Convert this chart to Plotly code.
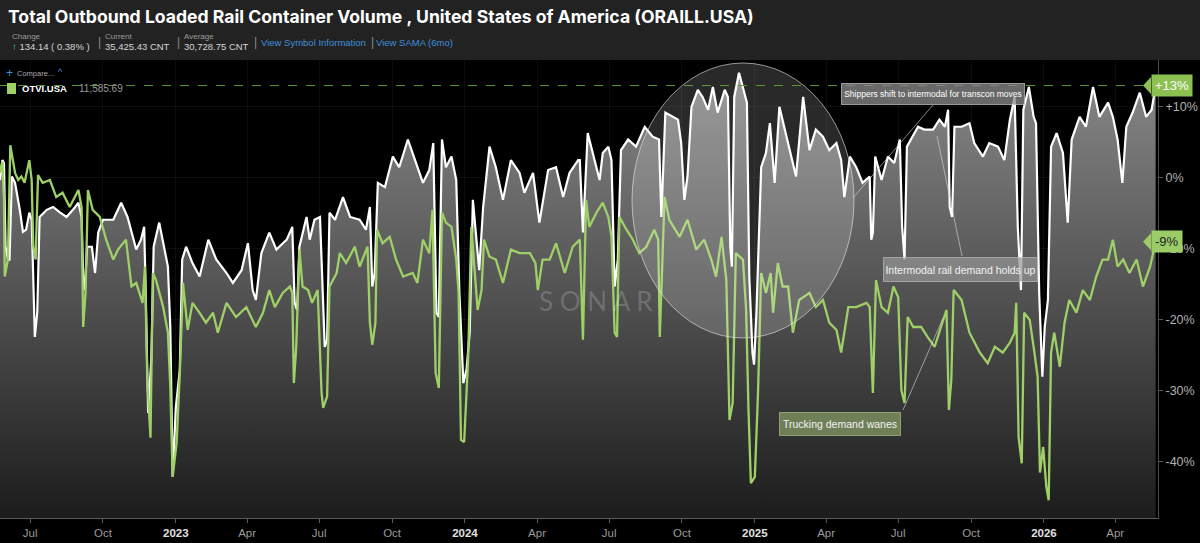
import plotly.graph_objects as go

# ---------------- data ----------------
rail_dates = [
    "2022-05-24", "2022-05-27", "2022-05-29", "2022-05-31", "2022-06-03", "2022-06-05", "2022-06-08",
    "2022-06-12", "2022-06-18", "2022-06-22", "2022-06-26", "2022-06-30", "2022-07-03", "2022-07-06",
    "2022-07-07", "2022-07-10", "2022-07-13", "2022-07-22", "2022-07-30", "2022-08-08", "2022-08-16",
    "2022-08-24", "2022-08-31", "2022-09-04", "2022-09-06", "2022-09-08", "2022-09-11", "2022-09-17",
    "2022-09-21", "2022-09-25", "2022-10-01", "2022-10-14", "2022-10-24", "2022-11-01", "2022-11-12",
    "2022-11-18", "2022-11-22", "2022-11-24", "2022-11-27", "2022-12-01", "2022-12-04", "2022-12-11",
    "2022-12-18", "2022-12-22", "2022-12-25", "2022-12-28", "2023-01-01", "2023-01-06", "2023-01-09",
    "2023-01-14", "2023-01-22", "2023-01-31", "2023-02-11", "2023-02-21", "2023-03-06", "2023-03-14",
    "2023-03-25", "2023-04-02", "2023-04-08", "2023-04-12", "2023-04-19", "2023-04-29", "2023-05-08",
    "2023-05-21", "2023-05-25", "2023-05-28", "2023-05-31", "2023-06-03", "2023-06-06", "2023-06-15",
    "2023-06-19", "2023-06-25", "2023-07-02", "2023-07-05", "2023-07-08", "2023-07-11", "2023-07-14",
    "2023-07-21", "2023-07-31", "2023-08-09", "2023-08-21", "2023-08-29", "2023-09-03", "2023-09-06",
    "2023-09-09", "2023-09-13", "2023-09-22", "2023-10-02", "2023-10-10", "2023-10-21", "2023-10-31",
    "2023-11-09", "2023-11-17", "2023-11-22", "2023-11-26", "2023-11-29", "2023-12-03", "2023-12-08",
    "2023-12-15", "2023-12-21", "2023-12-25", "2023-12-30", "2024-01-03", "2024-01-07", "2024-01-11",
    "2024-01-15", "2024-01-19", "2024-01-24", "2024-02-01", "2024-02-09", "2024-02-18", "2024-02-28",
    "2024-03-10", "2024-03-16", "2024-03-27", "2024-04-04", "2024-04-15", "2024-04-25", "2024-05-04",
    "2024-05-12", "2024-05-23", "2024-05-25", "2024-05-29", "2024-06-04", "2024-06-10", "2024-06-19",
    "2024-06-23", "2024-06-30", "2024-07-04", "2024-07-08", "2024-07-12", "2024-07-16", "2024-07-25",
    "2024-08-04", "2024-08-15", "2024-08-25", "2024-09-02", "2024-09-05", "2024-09-10", "2024-09-19",
    "2024-09-26", "2024-09-30", "2024-10-04", "2024-10-08", "2024-10-13", "2024-10-21", "2024-10-27",
    "2024-11-03", "2024-11-09", "2024-11-15", "2024-11-24", "2024-11-28", "2024-12-01", "2024-12-03",
    "2024-12-06", "2024-12-12", "2024-12-17", "2024-12-22", "2024-12-25", "2024-12-29", "2024-12-31",
    "2025-01-03", "2025-01-09", "2025-01-15", "2025-01-20", "2025-01-26", "2025-02-01", "2025-02-05",
    "2025-02-14", "2025-02-22", "2025-03-03", "2025-03-11", "2025-03-19", "2025-03-28", "2025-04-05",
    "2025-04-14", "2025-04-20", "2025-04-24", "2025-05-01", "2025-05-09", "2025-05-17", "2025-05-26",
    "2025-05-28", "2025-05-30", "2025-06-02", "2025-06-10", "2025-06-18", "2025-06-26", "2025-07-03",
    "2025-07-06", "2025-07-09", "2025-07-12", "2025-07-17", "2025-07-26", "2025-08-03", "2025-08-14",
    "2025-08-22", "2025-08-29", "2025-09-02", "2025-09-04", "2025-09-07", "2025-09-10", "2025-09-19",
    "2025-09-29", "2025-10-05", "2025-10-16", "2025-10-24", "2025-11-04", "2025-11-12", "2025-11-19",
    "2025-11-25", "2025-11-29", "2025-12-03", "2025-12-06", "2025-12-13", "2025-12-19", "2025-12-22",
    "2025-12-26", "2025-12-30", "2026-01-02", "2026-01-06", "2026-01-10", "2026-01-17", "2026-01-25",
    "2026-01-31", "2026-02-05", "2026-02-15", "2026-02-23", "2026-03-04", "2026-03-12", "2026-03-23",
    "2026-03-29", "2026-04-04", "2026-04-10", "2026-04-15", "2026-04-23", "2026-05-02", "2026-05-10",
    "2026-05-17", "2026-05-22",
]
rail_pct = [
    -0.3, 2.5, 2.1, -9.7, -11.5, -11.5, 0.2,
    -0.7, -4.5, -7.6, -7.3, -4.9, -5.9, -20.0,
    -22.4, -19.0, -5.5, -4.5, -4.1, -4.9, -5.5,
    -4.5, -3.5, -5.5, -13.9, -15.8, -9.7, -9.7,
    -13.4, -7.7, -5.9, -5.9, -3.5, -5.5, -10.1,
    -8.7, -6.9, -16.2, -33.1, -25.6, -9.7, -6.3,
    -10.6, -12.5, -21.0, -42.1, -32.3, -27.0, -11.5,
    -9.7, -12.0, -13.9, -8.7, -11.5, -13.4, -14.8,
    -13.0, -9.2, -15.8, -17.2, -10.6, -7.7, -10.1,
    -8.7, -7.7, -6.9, -17.6, -18.6, -9.7, -5.5,
    -8.7, -5.9, -5.5, -16.2, -23.8, -22.8, -4.9,
    -5.9, -2.7, -5.5, -5.9, -7.3, -4.1, -15.3,
    -13.4, -0.7, -1.3, 3.0, 1.5, 5.4, 2.1,
    -0.7, 1.1, 4.9, -19.0, -19.6, 5.4, 1.5,
    3.0, -0.3, -16.2, -28.9, -27.0, -21.8, -3.1,
    -7.7, -13.0, -4.1, 4.4, 1.5, -3.1, 2.5,
    0.7, -2.1, 0.7, -6.3, 1.1, 1.5, -2.7,
    0.7, 2.5, 2.5, -7.7, 6.3, 3.5, -0.3,
    3.5, 4.4, 2.5, -15.3, -11.5, 3.9, 5.4,
    4.4, 7.2, 5.8, 5.4, -5.5, 9.2, 8.6,
    8.2, 4.9, -3.1, 0.2, 10.0, 12.4, 11.4,
    9.6, 12.8, 9.2, 12.4, 11.4, -9.7, -12.5,
    11.4, 14.8, 12.8, 10.6, -13.9, -24.6, -26.3,
    -19.0, 1.5, 3.5, 7.7, -0.7, 10.0, 8.2,
    3.9, 0.2, 11.4, 3.9, 6.8, 5.8, 3.9,
    4.9, 2.5, -2.7, 3.0, 1.5, -0.7, 0.2,
    -8.7, -7.7, 3.0, -0.3, 3.0, 2.1, 5.4,
    -6.9, -11.5, 4.4, 5.4, 7.2, 6.8, 6.8,
    8.2, 7.2, 9.6, -4.1, -5.5, 7.2, 7.2,
    7.7, 4.9, 3.0, 4.9, 4.4, 2.5, 8.2,
    11.4, -6.9, -15.8, 9.6, 12.8, 8.6, 7.7,
    -16.2, -28.0, -21.0, -17.2, 4.4, 6.3, 3.5,
    -6.3, 5.4, 8.6, 7.2, 12.8, 8.6, 10.6,
    8.6, 5.4, -0.7, 7.2, 9.2, 12.0, 8.6,
    9.6, 13.0,
]

truck_dates = [
    "2022-05-24", "2022-05-27", "2022-05-29", "2022-05-30", "2022-06-03", "2022-06-06", "2022-06-12",
    "2022-06-16", "2022-06-20", "2022-06-24", "2022-06-30", "2022-07-03", "2022-07-05", "2022-07-08",
    "2022-07-11", "2022-07-17", "2022-07-26", "2022-08-03", "2022-08-11", "2022-08-20", "2022-08-31",
    "2022-09-04", "2022-09-06", "2022-09-09", "2022-09-12", "2022-09-18", "2022-09-27", "2022-10-05",
    "2022-10-14", "2022-10-20", "2022-10-30", "2022-11-06", "2022-11-12", "2022-11-20", "2022-11-23",
    "2022-11-26", "2022-11-30", "2022-12-03", "2022-12-07", "2022-12-16", "2022-12-22", "2022-12-25",
    "2022-12-28", "2023-01-02", "2023-01-06", "2023-01-10", "2023-01-16", "2023-01-22", "2023-01-31",
    "2023-02-08", "2023-02-17", "2023-02-23", "2023-03-06", "2023-03-18", "2023-03-31", "2023-04-12",
    "2023-04-21", "2023-04-29", "2023-05-06", "2023-05-16", "2023-05-25", "2023-05-28", "2023-05-30",
    "2023-06-02", "2023-06-06", "2023-06-10", "2023-06-17", "2023-06-22", "2023-06-29", "2023-07-04",
    "2023-07-06", "2023-07-11", "2023-07-14", "2023-07-23", "2023-07-27", "2023-08-04", "2023-08-15",
    "2023-08-21", "2023-08-31", "2023-09-03", "2023-09-06", "2023-09-10", "2023-09-12", "2023-09-19",
    "2023-09-28", "2023-10-06", "2023-10-15", "2023-10-27", "2023-11-02", "2023-11-09", "2023-11-17",
    "2023-11-21", "2023-11-25", "2023-11-29", "2023-12-03", "2023-12-08", "2023-12-15", "2023-12-21",
    "2023-12-24", "2023-12-27", "2023-12-31", "2024-01-05", "2024-01-09", "2024-01-13", "2024-01-17",
    "2024-01-22", "2024-01-25", "2024-02-01", "2024-02-09", "2024-02-18", "2024-02-28", "2024-03-10",
    "2024-03-23", "2024-03-30", "2024-04-02", "2024-04-08", "2024-04-17", "2024-04-25", "2024-05-06",
    "2024-05-16", "2024-05-25", "2024-05-29", "2024-06-02", "2024-06-06", "2024-06-15", "2024-06-23",
    "2024-06-30", "2024-07-04", "2024-07-08", "2024-07-11", "2024-07-14", "2024-07-23", "2024-07-31",
    "2024-08-08", "2024-08-17", "2024-08-27", "2024-09-01", "2024-09-03", "2024-09-09", "2024-09-15",
    "2024-09-28", "2024-10-08", "2024-10-19", "2024-10-29", "2024-11-07", "2024-11-13", "2024-11-20",
    "2024-11-26", "2024-11-30", "2024-12-04", "2024-12-08", "2024-12-17", "2024-12-21", "2024-12-24",
    "2024-12-27", "2025-01-01", "2025-01-05", "2025-01-09", "2025-01-15", "2025-01-21", "2025-01-24",
    "2025-01-30", "2025-02-05", "2025-02-12", "2025-02-18", "2025-02-26", "2025-03-11", "2025-03-19",
    "2025-03-28", "2025-04-05", "2025-04-14", "2025-04-20", "2025-04-29", "2025-05-09", "2025-05-22",
    "2025-05-26", "2025-05-30", "2025-06-03", "2025-06-10", "2025-06-18", "2025-06-25", "2025-07-01",
    "2025-07-05", "2025-07-09", "2025-07-13", "2025-07-20", "2025-07-30", "2025-08-07", "2025-08-16",
    "2025-08-24", "2025-08-31", "2025-09-03", "2025-09-06", "2025-09-09", "2025-09-19", "2025-09-29",
    "2025-10-12", "2025-10-22", "2025-10-31", "2025-11-10", "2025-11-19", "2025-11-25", "2025-11-27",
    "2025-11-30", "2025-12-04", "2025-12-07", "2025-12-14", "2025-12-20", "2025-12-24", "2025-12-27",
    "2025-12-31", "2026-01-04", "2026-01-07", "2026-01-10", "2026-01-14", "2026-01-21", "2026-01-27",
    "2026-02-02", "2026-02-11", "2026-02-19", "2026-02-28", "2026-03-08", "2026-03-16", "2026-03-23",
    "2026-03-29", "2026-04-04", "2026-04-11", "2026-04-19", "2026-04-28", "2026-05-06", "2026-05-15",
    "2026-05-22",
]
truck_pct = [
    0.7, 2.3, -3.1, -13.9, -11.5, 4.6, 0.7,
    -0.3, 0.2, -0.7, 2.5, -0.3, -9.7, -11.5,
    0.4, -0.7, -0.3, -2.7, -2.1, -4.1, -1.7,
    -4.1, -21.0, -16.2, -1.7, -4.5, -5.5, -8.7,
    -11.5, -10.1, -8.7, -15.3, -14.8, -17.6, -12.5,
    -28.5, -36.6, -13.4, -14.4, -18.2, -21.8, -29.4,
    -42.1, -37.3, -27.5, -14.8, -21.4, -17.6, -19.0,
    -20.4, -19.0, -21.8, -17.6, -19.6, -18.2, -21.0,
    -19.0, -15.8, -18.2, -16.2, -15.3, -16.2, -28.9,
    -23.8, -10.1, -15.3, -15.8, -17.6, -15.8, -30.3,
    -32.4, -30.8, -15.3, -13.4, -10.6, -12.0, -9.7,
    -12.5, -9.7, -20.4, -23.5, -20.4, -7.3, -9.2,
    -8.3, -11.5, -13.9, -13.4, -14.8, -8.7, -10.6,
    -4.5, -27.5, -29.6, -4.9, -6.3, -6.9, -11.5,
    -16.2, -36.9, -37.2, -25.6, -6.9, -13.0, -18.6,
    -15.8, -8.7, -11.1, -11.5, -14.8, -10.1, -10.6,
    -10.6, -12.0, -15.8, -11.5, -11.5, -9.2, -13.4,
    -9.7, -8.7, -22.8, -3.1, -6.9, -4.9, -3.5,
    -5.5, -8.3, -21.8, -22.4, -5.5, -7.3, -8.7,
    -10.6, -9.7, -7.3, -8.7, -22.4, -2.7, -5.9,
    -8.3, -5.9, -10.1, -8.7, -11.5, -13.9, -8.3,
    -14.4, -34.1, -31.7, -10.6, -11.5, -18.6, -32.7,
    -43.0, -42.1, -30.3, -13.4, -16.2, -13.4, -19.0,
    -12.0, -15.3, -15.3, -21.8, -17.2, -16.2, -18.2,
    -17.2, -20.4, -21.4, -24.6, -18.2, -18.2, -17.6,
    -18.2, -30.3, -14.4, -18.2, -19.0, -15.3, -16.8,
    -29.9, -31.7, -19.6, -21.0, -21.0, -22.4, -23.8,
    -21.0, -18.6, -32.7, -28.5, -15.8, -17.2, -21.8,
    -24.6, -26.1, -23.8, -24.6, -23.2, -21.8, -17.6,
    -36.5, -40.2, -19.0, -20.0, -24.6, -28.0, -41.5,
    -37.9, -43.5, -45.4, -24.6, -21.8, -26.6, -20.4,
    -17.2, -19.0, -15.8, -17.2, -13.9, -11.5, -11.5,
    -8.7, -12.5, -11.5, -13.4, -11.5, -15.3, -12.5,
    -9.0,
]

x_tick_dates = ["2022-07-01", "2022-10-01", "2023-01-01", "2023-04-01", "2023-07-01", "2023-10-01",
                "2024-01-01", "2024-04-01", "2024-07-01", "2024-10-01", "2025-01-01", "2025-04-01",
                "2025-07-01", "2025-10-01", "2026-01-01", "2026-04-01"]
x_tick_labels = ["Jul", "Oct", "2023", "Apr", "Jul", "Oct", "2024", "Apr", "Jul", "Oct",
                 "2025", "Apr", "Jul", "Oct", "2026", "Apr"]
y_tick_vals = [-40, -30, -20, -10, 0, 10]
y_tick_labels = ["-40%", "-30%", "-20%", "-10%", "0%", "+10%"]

title_text = "Total Outbound Loaded Rail Container Volume , United States of America (ORAILL.USA)"
stat_labels = ["Change", "Current", "Average"]
stat_values = ["134.14 ( 0.38% )", "35,425.43 CNT", "30,728.75 CNT"]
compare_name = "OTVI.USA"
compare_value = "11,585.69"
last_rail_label = "+13%"
last_truck_label = "-9%"
note_circle = "Shippers shift to intermodal for transcon moves"
note_rail = "Intermodal rail demand holds up"
note_truck = "Trucking demand wanes"

# ---------------- geometry helpers (pixel -> paper) ----------------
FIG_W, FIG_H = 1200, 543
M_L, M_R, M_T, M_B = 0, 42, 60, 25
PW = FIG_W - M_L - M_R
PH = FIG_H - M_T - M_B
Y_MIN, Y_MAX = -47.9, 16.6
X_RANGE = ["2022-05-24", "2026-05-25"]


def px(x):
    return (x - M_L) / PW


def py(y):
    return (FIG_H - M_B - y) / PH


GREEN = "#9fd068"
FONT = "Liberation Sans"

fig = go.Figure()

# baseline for the gradient area under the rail series
fig.add_trace(go.Scatter(
    x=[rail_dates[0], rail_dates[-1]], y=[Y_MIN, Y_MIN], mode="lines",
    line=dict(width=0, color="rgba(0,0,0,0)"), hoverinfo="skip", showlegend=False))

fig.add_trace(go.Scatter(
    x=rail_dates, y=rail_pct, mode="lines", name="ORAILL.USA",
    line=dict(color="#ffffff", width=2.2),
    fill="tonexty",
    fillgradient=dict(type="vertical", start=Y_MIN, stop=15,
                      colorscale=[[0, "#1c1c1c"], [1, "#888888"]]),
    showlegend=False))

fig.add_trace(go.Scatter(
    x=truck_dates, y=truck_pct, mode="lines", name=compare_name,
    line=dict(color=GREEN, width=2.3), showlegend=False))

shapes = []
annotations = []

# header band
shapes.append(dict(type="rect", xref="paper", yref="paper", x0=px(0), x1=px(FIG_W),
                   y0=py(M_T), y1=py(0), fillcolor="#222222", line=dict(width=0), layer="below"))

# highlight circle
shapes.append(dict(type="circle", xref="paper", yref="paper", x0=px(632), x1=px(854),
                   y0=py(338), y1=py(63), fillcolor="rgba(255,255,255,0.16)",
                   line=dict(color="rgba(235,235,235,0.6)", width=1), layer="above"))

# dashed last-value line
shapes.append(dict(type="line", xref="paper", yref="y", x0=0, x1=px(1150), y0=rail_pct[-1], y1=rail_pct[-1],
                   line=dict(color="#5e9a36", width=1, dash="dash")))

# leader lines
for (x0, y0, x1, y1) in [(933, 105, 853, 198), (962, 256, 937, 136), (903, 410, 943, 318)]:
    shapes.append(dict(type="line", xref="paper", yref="paper", x0=px(x0), y0=py(y0), x1=px(x1), y1=py(y1),
                       line=dict(color="rgba(220,220,220,0.6)", width=1)))

# legend square
shapes.append(dict(type="rect", xref="paper", yref="paper", x0=px(7), x1=px(16), y0=py(94), y1=py(83),
                   fillcolor=GREEN, line=dict(width=0)))

# last value tags arrows
for val, col in [(rail_pct[-1], "#8cc152"), (truck_pct[-1], "#9ccc65")]:
    shapes.append(dict(type="path", xref="paper", yref="y",
                       path=f"M {px(1143)} {val} L {px(1151)} {val + 1.2} L {px(1151)} {val - 1.2} Z",
                       fillcolor=col, line=dict(width=0)))


def txt(x, y, text, size=10, color="#cccccc", anchor="left", family=FONT, **kw):
    annotations.append(dict(xref="paper", yref="paper", x=px(x), y=py(y), text=text, showarrow=False,
                            xanchor=anchor, yanchor="middle", font=dict(size=size, color=color, family=family),
                            **kw))


# header texts
txt(6, 17, f"<b>{title_text}</b>", size=17.6, color="#ffffff", family="Inter")
stat_x = [10, 103, 182]
for i, (lab, val) in enumerate(zip(stat_labels, stat_values)):
    txt(stat_x[i], 36, lab, size=8, color="#9a9a9a")
    if i == 0:
        txt(stat_x[i], 47, f"<span style='color:#3ecf7a'>\u2191</span> {val}", size=9.5, color="#d6d6d6")
    else:
        txt(stat_x[i], 47, val, size=9.5, color="#d6d6d6")
for sx in [96, 175, 252, 369]:
    txt(sx, 42, "|", size=12, color="#8a8a8a")
txt(259, 42, "View Symbol Information", size=9.5, color="#3f8fde")
txt(374, 42, "View SAMA (6mo)", size=9.5, color="#3f8fde")

# compare legend
txt(4, 73, "+", size=12, color="#3f8fde")
txt(15, 73, "Compare...", size=7.5, color="#aaaaaa")
txt(56, 72, "^", size=9, color="#3f8fde")
txt(20, 88, f"<b>{compare_name}</b>", size=9.5, color="#ffffff")
txt(77, 88, compare_value, size=10, color="#9a9a9a")

# watermark
txt(596, 301, "S O N A R", size=26, color="rgba(255,255,255,0.19)", anchor="center", family="Lato")

# notes
annotations.append(dict(xref="paper", yref="paper", x=px(933), y=py(94), text=note_circle, showarrow=False,
                        xanchor="center", yanchor="middle", width=180, height=18,
                        bgcolor="rgba(140,140,140,0.75)", bordercolor="rgba(200,200,200,0.7)", borderwidth=1,
                        borderpad=1, font=dict(size=8.5, color="#ffffff", family=FONT)))
annotations.append(dict(xref="paper", yref="paper", x=px(960.5), y=py(269), text=note_rail, showarrow=False,
                        xanchor="center", yanchor="middle", width=151, height=21,
                        bgcolor="rgba(150,150,150,0.7)", bordercolor="rgba(200,200,200,0.6)", borderwidth=1,
                        borderpad=1, font=dict(size=10.5, color="#f2f2f2", family=FONT)))
annotations.append(dict(xref="paper", yref="paper", x=px(840), y=py(424), text=note_truck, showarrow=False,
                        xanchor="center", yanchor="middle", width=118, height=20,
                        bgcolor="rgba(118,135,92,0.9)", bordercolor="rgba(160,175,130,0.8)", borderwidth=1,
                        borderpad=1, font=dict(size=10.5, color="#f2f2f2", family=FONT)))

# last value tags
annotations.append(dict(xref="paper", yref="y", x=px(1151), y=rail_pct[-1], text=last_rail_label,
                        showarrow=False, xanchor="left", yanchor="middle", bgcolor="#8cc152",
                        borderpad=3, font=dict(size=13, color="#ffffff", family=FONT)))
annotations.append(dict(xref="paper", yref="y", x=px(1151), y=truck_pct[-1], text=last_truck_label,
                        showarrow=False, xanchor="left", yanchor="middle", bgcolor="#9ccc65",
                        borderpad=3, font=dict(size=13, color="#222222", family=FONT)))

tick_text = [f"<b><span style='color:#e0e0e0'>{t}</span></b>" if t.isdigit() else t for t in x_tick_labels]

fig.update_layout(
    width=FIG_W, height=FIG_H,
    margin=dict(l=M_L, r=M_R, t=M_T, b=M_B),
    paper_bgcolor="#000000", plot_bgcolor="#000000",
    showlegend=False, hovermode=False,
    shapes=shapes, annotations=annotations,
    xaxis=dict(type="date", range=X_RANGE, tickvals=x_tick_dates, ticktext=tick_text,
               showgrid=True, gridcolor="rgba(255,255,255,0.05)", gridwidth=1,
               showline=True, linecolor="#5a5a5a", linewidth=1,
               ticks="outside", ticklen=4, tickcolor="#5a5a5a",
               tickfont=dict(size=11.5, color="#9a9a9a", family=FONT), zeroline=False),
    yaxis=dict(range=[Y_MIN, Y_MAX], side="right", tickvals=y_tick_vals, ticktext=y_tick_labels,
               showgrid=True, gridcolor="rgba(255,255,255,0.05)", gridwidth=1,
               showline=True, linecolor="#4a4a4a", linewidth=1,
               ticks="outside", ticklen=4, tickcolor="#5a5a5a",
               tickfont=dict(size=12.5, color="#b0b0b0", family=FONT), zeroline=False),
)

fig.write_html("out.html", config={"displayModeBar": False},
               post_script="document.body.style.margin='0';document.body.style.overflow='hidden';")
